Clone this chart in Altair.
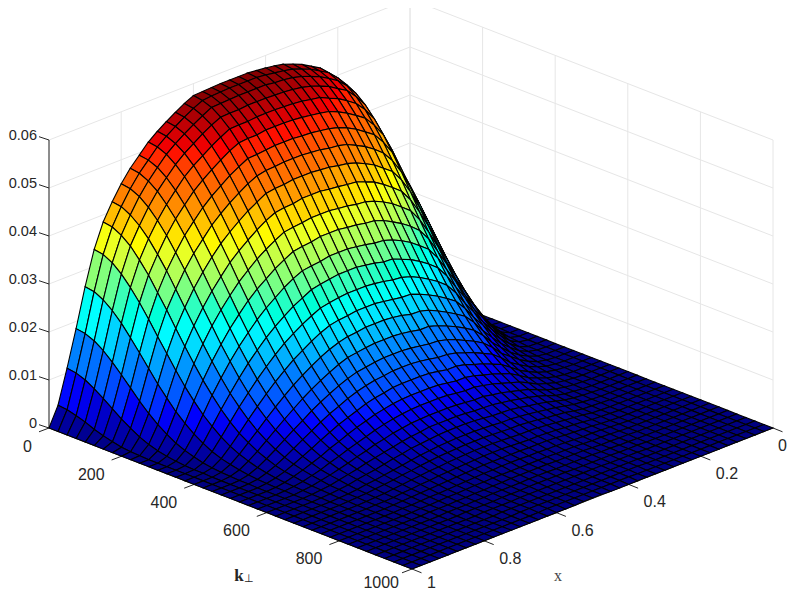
import altair as alt

# Values: k grid 0..1000 step 25, x grid 0..1 step 0.025, z in units of 1e-4.
k_values = [25 * j for j in range(41)]
x_values = [0.025 * i for i in range(41)]
z_ticks = [0, 0.01, 0.02, 0.03, 0.04, 0.05, 0.06]
k_ticks = [0, 200, 400, 600, 800, 1000]
x_ticks = [0, 0.2, 0.4, 0.6, 0.8, 1]
z_labels = ["0", "0.01", "0.02", "0.03", "0.04", "0.05", "0.06"]
k_labels = ["0", "200", "400", "600", "800", "1000"]
x_labels = ["0", "0.2", "0.4", "0.6", "0.8", "1"]
jet_stops = ["#00007f", "#0000ff", "#007fff", "#00ffff", "#7fff7f", "#ffff00", "#ff7f00", "#ff0000", "#7f0000"]

z_rows = [
[0],
[170,163,142,113,83,55,34,19,10,4,2,1],
[250,244,228,203,173,140,109,81,57,39,25,15,9,5,3,1,1],
[290,285,272,252,225,195,164,134,106,81,60,43,30,20,13,8,5,3,2,1,1],
[325,321,309,291,267,240,210,179,149,121,96,74,56,42,30,21,14,10,6,4,3,1,1,1],
[365,361,351,334,311,284,255,224,192,162,134,109,87,68,51,38,28,20,14,10,7,4,3,2,1,1],
[400,396,386,370,348,323,293,262,231,199,169,141,116,94,74,58,44,33,25,18,13,9,6,4,3,2,1,1],
[450,447,437,421,399,373,342,310,276,244,210,180,151,125,102,82,64,50,39,29,22,16,12,8,5,4,3,2,1,1],
[490,487,477,461,439,413,383,350,316,281,247,214,183,154,128,105,85,68,53,41,32,24,18,13,9,7,5,3,2,2,1,1],
[512,509,500,485,465,440,412,381,348,314,280,247,215,185,157,132,110,90,73,58,46,36,28,21,16,12,9,6,5,3,2,2,1,1],
[530,527,518,505,485,462,435,404,373,339,306,272,240,209,180,154,130,108,89,73,59,47,37,29,22,17,13,10,7,5,4,3,2,1,1,1],
[541,538,530,516,498,475,448,419,387,354,321,288,255,224,195,167,142,120,100,82,67,54,43,34,27,21,16,12,9,7,5,4,3,2,1,1,1],
[552,549,541,528,510,487,461,432,401,368,335,301,269,237,207,179,153,130,109,91,75,61,49,39,31,24,19,14,11,8,6,4,3,2,2,1,1,1],
[560,557,549,536,518,497,471,442,411,380,346,312,280,248,218,189,163,139,118,98,81,66,55,44,35,28,22,17,13,10,7,5,4,3,2,2,1,1,1],
[567,564,556,543,527,505,479,451,420,388,355,322,289,256,227,198,172,147,125,105,88,72,59,47,38,31,24,19,15,11,9,6,5,4,3,2,1,1,1],
[571,568,561,548,530,509,484,456,426,395,361,329,295,264,233,205,177,153,130,109,92,76,63,51,41,32,26,21,16,12,10,7,5,4,3,2,2,1,1,1],
[574,571,564,551,534,512,487,458,429,397,363,331,297,265,235,206,178,153,131,110,92,76,63,51,42,33,26,21,16,12,10,7,5,4,3,2,2,1,1,1],
[576,574,565,553,536,515,490,462,433,400,367,335,301,270,239,209,183,157,134,114,96,79,65,53,43,35,28,22,17,13,10,8,6,4,3,2,2,1,1,1],
[578,576,568,554,537,517,491,464,435,402,369,337,304,273,242,212,186,160,137,117,99,82,68,55,45,37,29,23,18,14,11,8,6,5,3,3,2,1,1,1],
[578,576,568,555,538,518,493,466,437,405,372,340,307,276,244,215,188,162,139,119,100,83,69,56,46,38,30,24,19,15,11,9,6,5,4,3,2,1,1,1,1],
[578,576,568,555,538,518,493,466,437,405,372,340,307,276,244,215,188,162,139,119,100,83,69,56,46,38,30,24,19,15,11,9,6,5,4,3,2,1,1,1,1],
[578,576,568,555,538,518,493,466,437,405,372,340,307,276,244,215,188,162,139,119,100,83,69,56,46,38,30,24,19,15,11,9,6,5,4,3,2,1,1,1,1],
[577,575,567,553,536,515,491,464,434,401,369,336,303,273,242,212,185,160,137,116,99,82,68,55,46,37,29,23,18,14,11,8,6,5,3,3,2,1,1,1],
[576,574,566,553,536,515,489,463,433,400,367,334,301,270,239,210,183,157,134,114,95,80,66,54,43,35,28,22,17,13,10,8,6,4,3,2,2,1,1,1],
[575,572,565,552,535,513,488,459,430,397,364,331,298,266,235,206,178,154,131,110,92,76,63,51,41,33,26,21,16,12,9,7,5,4,3,2,2,1,1,1],
[566,563,555,543,525,504,478,450,419,388,354,321,289,256,226,198,171,147,125,105,87,72,59,48,38,31,24,19,14,11,8,6,5,3,3,2,1,1,1],
[555,552,544,532,514,492,467,438,408,376,343,310,278,246,216,188,162,138,117,98,80,66,54,43,34,27,21,17,13,10,7,5,4,3,2,1,1,1,1],
[543,540,532,519,501,479,453,425,394,362,330,296,264,233,204,176,151,128,108,89,73,60,48,39,30,24,18,14,11,8,6,4,3,2,2,1,1,1],
[530,527,519,506,488,465,439,410,379,347,314,282,250,219,191,164,139,117,98,81,66,53,42,33,26,20,15,12,9,7,5,3,3,2,1,1,1],
[515,512,504,490,472,449,422,393,362,330,297,265,233,203,175,149,126,105,87,71,57,45,36,28,22,16,12,9,7,5,4,3,2,1,1,1],
[495,492,484,470,451,428,401,371,341,308,276,244,213,184,157,133,111,91,74,60,48,38,29,22,17,13,9,7,5,4,3,2,1,1,1],
[475,472,463,449,429,406,379,349,317,285,253,222,192,164,138,115,95,77,62,49,38,29,23,17,13,10,7,5,3,2,2,1,1,1],
[450,447,438,423,403,379,351,322,290,258,227,196,168,141,117,96,78,62,49,38,29,22,16,12,9,6,4,3,2,1,1,1],
[420,417,407,392,372,347,320,289,258,227,197,168,141,116,95,76,60,47,36,27,20,15,11,8,5,4,2,2,1,1],
[385,382,372,357,335,311,282,253,222,192,163,136,112,90,71,55,43,32,24,17,12,9,6,4,3,2,1,1],
[335,332,322,306,285,261,234,205,177,149,123,100,79,62,47,35,26,19,13,9,6,4,3,2,1,1],
[265,262,252,237,218,195,171,146,121,99,78,61,46,34,24,17,12,8,5,3,2,1,1],
[185,182,174,161,144,125,105,85,67,51,38,27,19,13,8,5,3,2,1,1],
[110,107,100,89,76,62,48,36,25,17,11,7,4,2,1,1],
[40,38,33,27,19,13,8,4,2,1],
[0],
]

NK = len(k_values)
Z = [[v * 1e-4 for v in row] + [0.0] * (NK - len(row)) for row in z_rows]


def proj(x, k, z=0.0):
    u = 1 - x
    t = k / 1000
    return [41 + 361 * u + 363 * t, 420 - 141 * u + 141 * t - 4800 * z]


def seg(*pts):
    return {"type": "Feature", "properties": {}, "geometry": {"type": "LineString", "coordinates": pts}}


# surface cells, back to front
cells = []
for i in range(len(x_values) - 1):
    for j in range(NK - 1):
        a, b = x_values[i], x_values[i + 1]
        c, d = k_values[j], k_values[j + 1]
        z00, z01, z11, z10 = Z[i][j], Z[i][j + 1], Z[i + 1][j + 1], Z[i + 1][j]
        ring = [proj(a, c, z00), proj(a, d, z01), proj(b, d, z11), proj(b, c, z10), proj(a, c, z00)]
        cells.append({
            "type": "Feature",
            "properties": {"z": (z00 + z01 + z11 + z10) / 4},
            "geometry": {"type": "Polygon", "coordinates": [ring]},
        })

# wall grid
zmax = z_ticks[-1]
grid = []
for z in z_ticks:
    grid.append(seg(proj(1, 0, z), proj(0, 0, z), proj(0, 1000, z)))
for k in k_ticks:
    grid.append(seg(proj(0, k, 0), proj(0, k, zmax)))
for x in x_ticks:
    grid.append(seg(proj(x, 0, 0), proj(x, 0, zmax)))

# axis lines and ticks
axes = [seg(proj(1, 0, 0), proj(1, 0, zmax)), seg(proj(1, 0, 0), proj(1, 1000, 0)), seg(proj(1, 1000, 0), proj(0, 1000, 0))]
for z in z_ticks:
    p = proj(1, 0, z)
    axes.append(seg(p, [p[0] - 10, p[1] - 3.3]))
for k in k_ticks:
    p = proj(1, k, 0)
    axes.append(seg(p, [p[0] - 10, p[1] + 3.8]))
for x in x_ticks:
    p = proj(x, 1000, 0)
    axes.append(seg(p, [p[0] + 9.5, p[1] + 3.8]))

base = dict(type="identity", scale=1, translate=[0, 0])
font = "Liberation Sans"
ink = "#262626"

grid_layer = alt.Chart(alt.Data(values=grid)).mark_geoshape(filled=False, stroke="#e6e6e6", strokeWidth=1).project(**base)
axes_layer = alt.Chart(alt.Data(values=axes)).mark_geoshape(filled=False, stroke=ink, strokeWidth=1).project(**base)

n = len(jet_stops)
surface = (
    alt.Chart(alt.Data(values=cells))
    .mark_geoshape(stroke="black", strokeWidth=1.1)
    .encode(color=alt.Color("properties.z:Q", legend=None,
                            scale=alt.Scale(domain=[0.058 * s / (n - 1) for s in range(n)], range=jet_stops)))
    .project(**base)
)


def text_layer(rows, family=font, color=ink, **mark):
    return (
        alt.Chart(alt.Data(values=rows))
        .mark_text(font=family, color=color, baseline="middle", **mark)
        .encode(longitude="lon:Q", latitude="lat:Q", text="t:N")
        .project(**base)
    )


z_rows_t = [{"lon": 29, "lat": proj(1, 0, z)[1] - 4, "t": t} for z, t in zip(z_ticks, z_labels)]
k_rows_t = [{"lon": proj(1, k, 0)[0] - 17, "lat": proj(1, k, 0)[1] + 18.5, "t": t} for k, t in zip(k_ticks, k_labels)]
x_rows_t = [{"lon": proj(x, 1000, 0)[0] + 15, "lat": proj(x, 1000, 0)[1] + 18, "t": t} for x, t in zip(x_ticks, x_labels)]
# the labels at the page's edges are kept inside the page
k_rows_t[-1].update(lon=proj(1, 1000, 0)[0] - 13, lat=575)
x_rows_t[-1].update(lat=575)
x_rows_t[0].update(lon=770)

layers = [
    grid_layer,
    axes_layer,
    surface,
    text_layer(z_rows_t, fontSize=14.5, align="right"),
    text_layer(k_rows_t, fontSize=16, align="right"),
    text_layer(x_rows_t, fontSize=16, align="left"),
    text_layer([{"lon": proj(1, 500, 0)[0] + 8.5, "lat": proj(1, 500, 0)[1] + 77.5, "t": "k"}], family="Liberation Serif", fontSize=17, align="center", fontWeight="bold"),
    text_layer([{"lon": proj(1, 500, 0)[0] + 18.5, "lat": proj(1, 500, 0)[1] + 80.5, "t": "⊥"}], fontSize=11, align="center"),
    text_layer([{"lon": proj(0.5, 1000, 0)[0] - 34.5, "lat": proj(0.5, 1000, 0)[1] + 77, "t": "x"}], family="Liberation Serif", color="#444444", fontSize=16, align="center"),
]

chart = (
    alt.layer(*layers)
    .properties(width=781, height=583, autosize=alt.AutoSizeParams(type="none"), padding=0, background="white")
    .configure_view(strokeWidth=0)
)

chart.save("out.html", embed_options={"renderer": "svg", "actions": False})
